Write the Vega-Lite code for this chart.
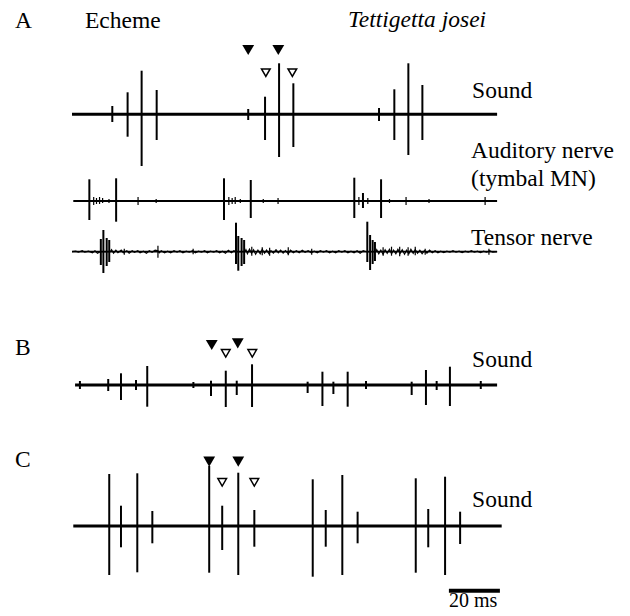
{
  "$schema": "https://vega.github.io/schema/vega-lite/v6.json",
  "width": 630,
  "height": 616,
  "autosize": {"type": "none"},
  "padding": 0,
  "background": "white",
  "config": {"view": {"stroke": null}},
  "datasets": {
    "baselines": [
      {"trace": "A", "t1": 0, "t2": 166.7, "v": 501.7},
      {"trace": "AN", "t1": 0.5, "t2": 166.7, "v": 415},
      {"trace": "TN", "t1": 0, "t2": 166.7, "v": 364.3},
      {"trace": "B", "t1": 1.2, "t2": 166.7, "v": 231},
      {"trace": "C", "t1": 0.5, "t2": 168.5, "v": 90}
    ],
    "scalebar": [{"t1": 147.8, "t2": 167.8, "v": 25.3}],
    "spikes": [
      {"trace": "A", "t": 15.8, "v1": 510, "v2": 494},
      {"trace": "A", "t": 21.8, "v1": 523.7, "v2": 479.3},
      {"trace": "A", "t": 27.3, "v1": 545.3, "v2": 450},
      {"trace": "A", "t": 33.2, "v1": 526, "v2": 476},
      {"trace": "A", "t": 69.1, "v1": 507, "v2": 496},
      {"trace": "A", "t": 75.7, "v1": 519.3, "v2": 476},
      {"trace": "A", "t": 81.2, "v1": 552.7, "v2": 459},
      {"trace": "A", "t": 86.8, "v1": 532.7, "v2": 469},
      {"trace": "A", "t": 120.4, "v1": 508, "v2": 495},
      {"trace": "A", "t": 126.4, "v1": 526.7, "v2": 476},
      {"trace": "A", "t": 131.9, "v1": 552.7, "v2": 461},
      {"trace": "A", "t": 137.4, "v1": 531, "v2": 476},
      {"trace": "AN", "t": 6.8, "v1": 436.7, "v2": 396},
      {"trace": "AN", "t": 17.3, "v1": 437.7, "v2": 394.3},
      {"trace": "AN", "t": 59.6, "v1": 437.7, "v2": 396},
      {"trace": "AN", "t": 70.1, "v1": 436, "v2": 398},
      {"trace": "AN", "t": 110.7, "v1": 438.3, "v2": 398},
      {"trace": "AN", "t": 114.1, "v1": 423, "v2": 408},
      {"trace": "AN", "t": 121.2, "v1": 436.7, "v2": 398},
      {"trace": "TN", "t": 11.3, "v1": 377, "v2": 351},
      {"trace": "TN", "t": 12.3, "v1": 386, "v2": 343},
      {"trace": "TN", "t": 13.6, "v1": 378, "v2": 350},
      {"trace": "TN", "t": 14.6, "v1": 376, "v2": 354},
      {"trace": "TN", "t": 64.3, "v1": 393.3, "v2": 352},
      {"trace": "TN", "t": 65.2, "v1": 380, "v2": 345.3},
      {"trace": "TN", "t": 66.5, "v1": 378, "v2": 350},
      {"trace": "TN", "t": 67.5, "v1": 376, "v2": 352},
      {"trace": "TN", "t": 115.8, "v1": 394.3, "v2": 354},
      {"trace": "TN", "t": 116.9, "v1": 381, "v2": 346},
      {"trace": "TN", "t": 117.9, "v1": 376, "v2": 352},
      {"trace": "TN", "t": 118.8, "v1": 374, "v2": 355},
      {"trace": "B", "t": 3.1, "v1": 235, "v2": 227},
      {"trace": "B", "t": 14.2, "v1": 237, "v2": 225},
      {"trace": "B", "t": 19.2, "v1": 242.7, "v2": 216},
      {"trace": "B", "t": 25.1, "v1": 236, "v2": 226},
      {"trace": "B", "t": 29.5, "v1": 250, "v2": 209.3},
      {"trace": "B", "t": 47.6, "v1": 234, "v2": 228},
      {"trace": "B", "t": 54.5, "v1": 235.3, "v2": 220},
      {"trace": "B", "t": 60.3, "v1": 245.3, "v2": 209},
      {"trace": "B", "t": 64.6, "v1": 235.3, "v2": 221},
      {"trace": "B", "t": 70.6, "v1": 251.7, "v2": 209},
      {"trace": "B", "t": 92.4, "v1": 234.3, "v2": 223},
      {"trace": "B", "t": 98.2, "v1": 244.3, "v2": 210},
      {"trace": "B", "t": 102.5, "v1": 234.3, "v2": 222},
      {"trace": "B", "t": 108.1, "v1": 244.3, "v2": 209.3},
      {"trace": "B", "t": 115.3, "v1": 235, "v2": 227},
      {"trace": "B", "t": 133.2, "v1": 234.3, "v2": 221},
      {"trace": "B", "t": 138.8, "v1": 246, "v2": 211},
      {"trace": "B", "t": 143.0, "v1": 235, "v2": 226},
      {"trace": "B", "t": 148.2, "v1": 249.3, "v2": 210},
      {"trace": "B", "t": 160.3, "v1": 235, "v2": 227},
      {"trace": "C", "t": 14.6, "v1": 142, "v2": 41},
      {"trace": "C", "t": 19.2, "v1": 110.3, "v2": 68.7},
      {"trace": "C", "t": 25.6, "v1": 142.7, "v2": 43.7},
      {"trace": "C", "t": 31.5, "v1": 105, "v2": 72.7},
      {"trace": "C", "t": 53.8, "v1": 150, "v2": 43.3},
      {"trace": "C", "t": 58.9, "v1": 110.3, "v2": 66},
      {"trace": "C", "t": 65.2, "v1": 143.3, "v2": 41},
      {"trace": "C", "t": 71.5, "v1": 106, "v2": 69.3},
      {"trace": "C", "t": 94.4, "v1": 136.7, "v2": 39.3},
      {"trace": "C", "t": 99.5, "v1": 106, "v2": 69.3},
      {"trace": "C", "t": 106.0, "v1": 141, "v2": 41},
      {"trace": "C", "t": 112.0, "v1": 104.3, "v2": 72.7},
      {"trace": "C", "t": 134.8, "v1": 137.7, "v2": 43.3},
      {"trace": "C", "t": 139.7, "v1": 107, "v2": 68.7},
      {"trace": "C", "t": 146.3, "v1": 139.3, "v2": 41},
      {"trace": "C", "t": 152.2, "v1": 104.3, "v2": 72}
    ],
    "noise": [
      {"t": 8.5, "v1": 419, "v2": 411}, {"t": 9.6, "v1": 418, "v2": 412}, {"t": 10.8, "v1": 419, "v2": 412},
      {"t": 12.0, "v1": 418, "v2": 413}, {"t": 14.5, "v1": 417, "v2": 413}, {"t": 25.9, "v1": 419, "v2": 411},
      {"t": 33.0, "v1": 417, "v2": 413}, {"t": 61.5, "v1": 419, "v2": 411},
      {"t": 62.8, "v1": 418, "v2": 412}, {"t": 64.0, "v1": 419, "v2": 412}, {"t": 66.0, "v1": 417, "v2": 413},
      {"t": 75.0, "v1": 417, "v2": 413}, {"t": 80.8, "v1": 418, "v2": 412},
      {"t": 112.5, "v1": 419, "v2": 411}, {"t": 116.0, "v1": 418, "v2": 412}, {"t": 124.5, "v1": 417, "v2": 413},
      {"t": 131.0, "v1": 419, "v2": 411}, {"t": 140.0, "v1": 417, "v2": 413},
      {"t": 162.0, "v1": 419, "v2": 411},
      {"t": 20.5, "v1": 367.3, "v2": 361.3}, {"t": 33.7, "v1": 370.3, "v2": 358.3}, {"t": 47.5, "v1": 367.3, "v2": 361.8},
      {"t": 70.5, "v1": 369.3, "v2": 360.3}, {"t": 74.6, "v1": 368.8, "v2": 360.8}, {"t": 77.5, "v1": 368.3, "v2": 360.3},
      {"t": 84.8, "v1": 368.8, "v2": 360.8}, {"t": 94.0, "v1": 367.3, "v2": 361.3},
      {"t": 122.0, "v1": 368.8, "v2": 360.3}, {"t": 125.3, "v1": 369.3, "v2": 360.3}, {"t": 128.5, "v1": 369.3, "v2": 359.8},
      {"t": 131.8, "v1": 368.8, "v2": 360.3}, {"t": 134.6, "v1": 369.3, "v2": 360.8}, {"t": 138.5, "v1": 367.3, "v2": 361.3},
      {"t": 163.5, "v1": 367.3, "v2": 361.3}
    ],
    "tensor": [
      {"t": 0, "v": 364.3}, {"t": 1.5, "v": 364.8}, {"t": 2.5, "v": 363.8}, {"t": 4, "v": 365.3}, {"t": 5, "v": 363.8},
      {"t": 6.5, "v": 364.8}, {"t": 8, "v": 363.3}, {"t": 9, "v": 365.3}, {"t": 10, "v": 362.8}, {"t": 11, "v": 364.3},
      {"t": 15, "v": 364.3}, {"t": 15.5, "v": 366.3}, {"t": 16.3, "v": 362.8}, {"t": 17.2, "v": 365.8}, {"t": 18, "v": 363.3},
      {"t": 19.3, "v": 365.8}, {"t": 20.1, "v": 363.3}, {"t": 21.5, "v": 365.3}, {"t": 22.4, "v": 362.8}, {"t": 23.6, "v": 365.3},
      {"t": 24.5, "v": 363.8}, {"t": 25.8, "v": 365.3}, {"t": 26.7, "v": 363.3}, {"t": 28, "v": 364.8}, {"t": 29.2, "v": 362.8},
      {"t": 30.3, "v": 365.3}, {"t": 31.4, "v": 363.8}, {"t": 32.6, "v": 365.8}, {"t": 33.7, "v": 365.3}, {"t": 34.2, "v": 363.3},
      {"t": 35, "v": 365.3}, {"t": 36.3, "v": 363.3}, {"t": 37.5, "v": 364.8}, {"t": 38.7, "v": 363.3}, {"t": 40, "v": 365.3},
      {"t": 41.2, "v": 363.8}, {"t": 42.3, "v": 365.3}, {"t": 43.5, "v": 363.3}, {"t": 44.8, "v": 364.8}, {"t": 46, "v": 363.8},
      {"t": 47.3, "v": 365.3}, {"t": 48.4, "v": 363.3}, {"t": 49.6, "v": 364.8}, {"t": 50.8, "v": 363.8}, {"t": 52, "v": 365.3},
      {"t": 53.1, "v": 363.3}, {"t": 54.3, "v": 364.8}, {"t": 55.6, "v": 363.8}, {"t": 56.7, "v": 365.3}, {"t": 57.9, "v": 363.3},
      {"t": 59, "v": 364.8}, {"t": 60.2, "v": 362.8}, {"t": 61.3, "v": 365.8}, {"t": 62.5, "v": 363.3}, {"t": 63.5, "v": 365.3},
      {"t": 64.3, "v": 364.3}, {"t": 67.8, "v": 364.3}, {"t": 68.2, "v": 366.3}, {"t": 68.8, "v": 362.3}, {"t": 69.6, "v": 366.8},
      {"t": 70.4, "v": 362.8}, {"t": 71.2, "v": 366.3}, {"t": 72, "v": 361.8}, {"t": 72.9, "v": 365.8}, {"t": 73.8, "v": 362.3},
      {"t": 74.6, "v": 366.8}, {"t": 75.5, "v": 362.8}, {"t": 76.3, "v": 365.8}, {"t": 77.2, "v": 362.3}, {"t": 78, "v": 365.3},
      {"t": 79, "v": 362.8}, {"t": 80, "v": 366.3}, {"t": 80.9, "v": 363.3}, {"t": 81.8, "v": 365.8}, {"t": 82.8, "v": 362.8},
      {"t": 83.7, "v": 365.3}, {"t": 84.8, "v": 362.3}, {"t": 85.7, "v": 365.8}, {"t": 86.8, "v": 363.3}, {"t": 88, "v": 365.3},
      {"t": 89.1, "v": 363.3}, {"t": 90.3, "v": 365.8}, {"t": 91.4, "v": 363.8}, {"t": 92.6, "v": 365.3}, {"t": 93.8, "v": 363.3},
      {"t": 95, "v": 364.8}, {"t": 96.2, "v": 363.3}, {"t": 97.4, "v": 365.3}, {"t": 98.6, "v": 363.8}, {"t": 99.8, "v": 365.3},
      {"t": 101, "v": 363.3}, {"t": 102.2, "v": 364.8}, {"t": 103.4, "v": 363.3}, {"t": 104.6, "v": 365.3}, {"t": 105.8, "v": 363.8},
      {"t": 107, "v": 365.3}, {"t": 108.2, "v": 363.3}, {"t": 109.4, "v": 364.8}, {"t": 110.6, "v": 363.3}, {"t": 111.8, "v": 365.3},
      {"t": 113, "v": 362.8}, {"t": 114.2, "v": 365.3}, {"t": 115.4, "v": 364.3}, {"t": 119.2, "v": 364.3}, {"t": 119.5, "v": 366.3},
      {"t": 120.3, "v": 362.3}, {"t": 121.1, "v": 365.8}, {"t": 122, "v": 361.8}, {"t": 122.8, "v": 366.3}, {"t": 123.6, "v": 362.8},
      {"t": 124.5, "v": 366.8}, {"t": 125.3, "v": 362.3}, {"t": 126.1, "v": 365.8}, {"t": 127, "v": 362.3}, {"t": 127.8, "v": 366.8},
      {"t": 128.7, "v": 362.8}, {"t": 129.5, "v": 366.3}, {"t": 130.4, "v": 361.8}, {"t": 131.2, "v": 365.8}, {"t": 132.1, "v": 362.3},
      {"t": 132.9, "v": 366.8}, {"t": 133.8, "v": 362.8}, {"t": 134.6, "v": 366.3}, {"t": 135.5, "v": 362.8}, {"t": 136.4, "v": 365.8},
      {"t": 137.3, "v": 362.3}, {"t": 138.2, "v": 365.3}, {"t": 139.2, "v": 362.8}, {"t": 140.2, "v": 365.8}, {"t": 141.3, "v": 363.3},
      {"t": 142.4, "v": 365.3}, {"t": 143.5, "v": 363.3}, {"t": 144.6, "v": 364.8}, {"t": 145.8, "v": 363.3}, {"t": 147, "v": 364.8},
      {"t": 148.2, "v": 363.8}, {"t": 149.4, "v": 365.3}, {"t": 150.6, "v": 363.8}, {"t": 151.8, "v": 364.8}, {"t": 153, "v": 363.3},
      {"t": 154.2, "v": 364.8}, {"t": 155.4, "v": 363.8}, {"t": 156.6, "v": 365.3}, {"t": 157.8, "v": 363.8}, {"t": 159, "v": 364.8},
      {"t": 160.2, "v": 363.3}, {"t": 161.4, "v": 364.8}, {"t": 162.6, "v": 363.8}, {"t": 163.8, "v": 365.3}, {"t": 165, "v": 363.8},
      {"t": 166.7, "v": 364.3}
    ],
    "markers": [
      {"kind": "filled", "t": 69.1, "v": 566}, {"kind": "filled", "t": 80.9, "v": 566},
      {"kind": "open", "t": 76.0, "v": 543.3}, {"kind": "open", "t": 86.4, "v": 543.3},
      {"kind": "filled", "t": 54.8, "v": 271}, {"kind": "filled", "t": 65.0, "v": 272.7},
      {"kind": "open", "t": 60.3, "v": 262.7}, {"kind": "open", "t": 70.7, "v": 262.7},
      {"kind": "filled", "t": 53.8, "v": 154.3}, {"kind": "filled", "t": 65.2, "v": 154.3},
      {"kind": "open", "t": 58.9, "v": 133.7}, {"kind": "open", "t": 71.5, "v": 133.7}
    ],
    "labels": [
      {"kind": "roman", "t": -22.4, "v": 588, "label": "A"},
      {"kind": "roman", "t": 5.1, "v": 588, "label": "Echeme"},
      {"kind": "italic", "t": 108.2, "v": 588.7, "label": "Tettigetta josei"},
      {"kind": "roman", "t": 156.9, "v": 518, "label": "Sound"},
      {"kind": "roman", "t": 156.5, "v": 458, "label": "Auditory nerve"},
      {"kind": "roman", "t": 156.5, "v": 430, "label": "(tymbal MN)"},
      {"kind": "roman", "t": 156.5, "v": 371, "label": "Tensor nerve"},
      {"kind": "roman", "t": -22.4, "v": 261, "label": "B"},
      {"kind": "roman", "t": 156.9, "v": 249, "label": "Sound"},
      {"kind": "roman", "t": -22.4, "v": 149, "label": "C"},
      {"kind": "roman", "t": 156.9, "v": 109, "label": "Sound"},
      {"kind": "small", "t": 147.8, "v": 9, "label": "20 ms"}
    ]
  },
  "layer": [
    {
      "data": {"name": "baselines"},
      "transform": [{"filter": "datum.trace == 'A' || datum.trace == 'B' || datum.trace == 'C'"}],
      "mark": {"type": "rule", "color": "black", "strokeWidth": 3},
      "encoding": {
        "x": {"field": "t1", "type": "quantitative", "scale": {"domain": [-28.24, 218.82], "nice": false, "zero": false}, "axis": null},
        "x2": {"field": "t2"},
        "y": {"field": "v", "type": "quantitative", "scale": {"domain": [0, 616], "nice": false, "zero": false}, "axis": null}
      }
    },
    {
      "data": {"name": "baselines"},
      "transform": [{"filter": "datum.trace == 'AN' || datum.trace == 'TN'"}],
      "mark": {"type": "rule", "color": "black", "strokeWidth": 1.8},
      "encoding": {
        "x": {"field": "t1", "type": "quantitative"},
        "x2": {"field": "t2"},
        "y": {"field": "v", "type": "quantitative"}
      }
    },
    {
      "data": {"name": "tensor"},
      "mark": {"type": "line", "color": "black", "strokeWidth": 1.2, "interpolate": "linear"},
      "encoding": {
        "x": {"field": "t", "type": "quantitative"},
        "y": {"field": "v", "type": "quantitative"}
      }
    },
    {
      "data": {"name": "noise"},
      "mark": {"type": "rule", "color": "black", "strokeWidth": 1.2},
      "encoding": {
        "x": {"field": "t", "type": "quantitative"},
        "y": {"field": "v1", "type": "quantitative"},
        "y2": {"field": "v2"}
      }
    },
    {
      "data": {"name": "spikes"},
      "mark": {"type": "rule", "color": "black", "strokeWidth": 2},
      "encoding": {
        "x": {"field": "t", "type": "quantitative"},
        "y": {"field": "v1", "type": "quantitative"},
        "y2": {"field": "v2"}
      }
    },
    {
      "data": {"name": "scalebar"},
      "mark": {"type": "rule", "color": "black", "strokeWidth": 4},
      "encoding": {
        "x": {"field": "t1", "type": "quantitative"},
        "x2": {"field": "t2"},
        "y": {"field": "v", "type": "quantitative"}
      }
    },
    {
      "data": {"name": "markers"},
      "transform": [{"filter": "datum.kind == 'filled'"}],
      "mark": {"type": "point", "shape": "triangle-down", "filled": true, "color": "black", "size": 140, "opacity": 1},
      "encoding": {
        "x": {"field": "t", "type": "quantitative"},
        "y": {"field": "v", "type": "quantitative"}
      }
    },
    {
      "data": {"name": "markers"},
      "transform": [{"filter": "datum.kind == 'open'"}],
      "mark": {"type": "point", "shape": "triangle-down", "filled": false, "stroke": "black", "fill": "white", "strokeWidth": 1.5, "size": 75, "opacity": 1},
      "encoding": {
        "x": {"field": "t", "type": "quantitative"},
        "y": {"field": "v", "type": "quantitative"}
      }
    },
    {
      "data": {"name": "labels"},
      "transform": [{"filter": "datum.kind == 'roman'"}],
      "mark": {"type": "text", "font": "Liberation Serif", "fontSize": 23.5, "color": "black", "align": "left", "baseline": "alphabetic"},
      "encoding": {
        "x": {"field": "t", "type": "quantitative"},
        "y": {"field": "v", "type": "quantitative"},
        "text": {"field": "label"}
      }
    },
    {
      "data": {"name": "labels"},
      "transform": [{"filter": "datum.kind == 'italic'"}],
      "mark": {"type": "text", "font": "Liberation Serif", "fontStyle": "italic", "fontSize": 23.5, "color": "black", "align": "left", "baseline": "alphabetic"},
      "encoding": {
        "x": {"field": "t", "type": "quantitative"},
        "y": {"field": "v", "type": "quantitative"},
        "text": {"field": "label"}
      }
    },
    {
      "data": {"name": "labels"},
      "transform": [{"filter": "datum.kind == 'small'"}],
      "mark": {"type": "text", "font": "Liberation Serif", "fontSize": 20, "color": "black", "align": "left", "baseline": "alphabetic"},
      "encoding": {
        "x": {"field": "t", "type": "quantitative"},
        "y": {"field": "v", "type": "quantitative"},
        "text": {"field": "label"}
      }
    }
  ]
}
